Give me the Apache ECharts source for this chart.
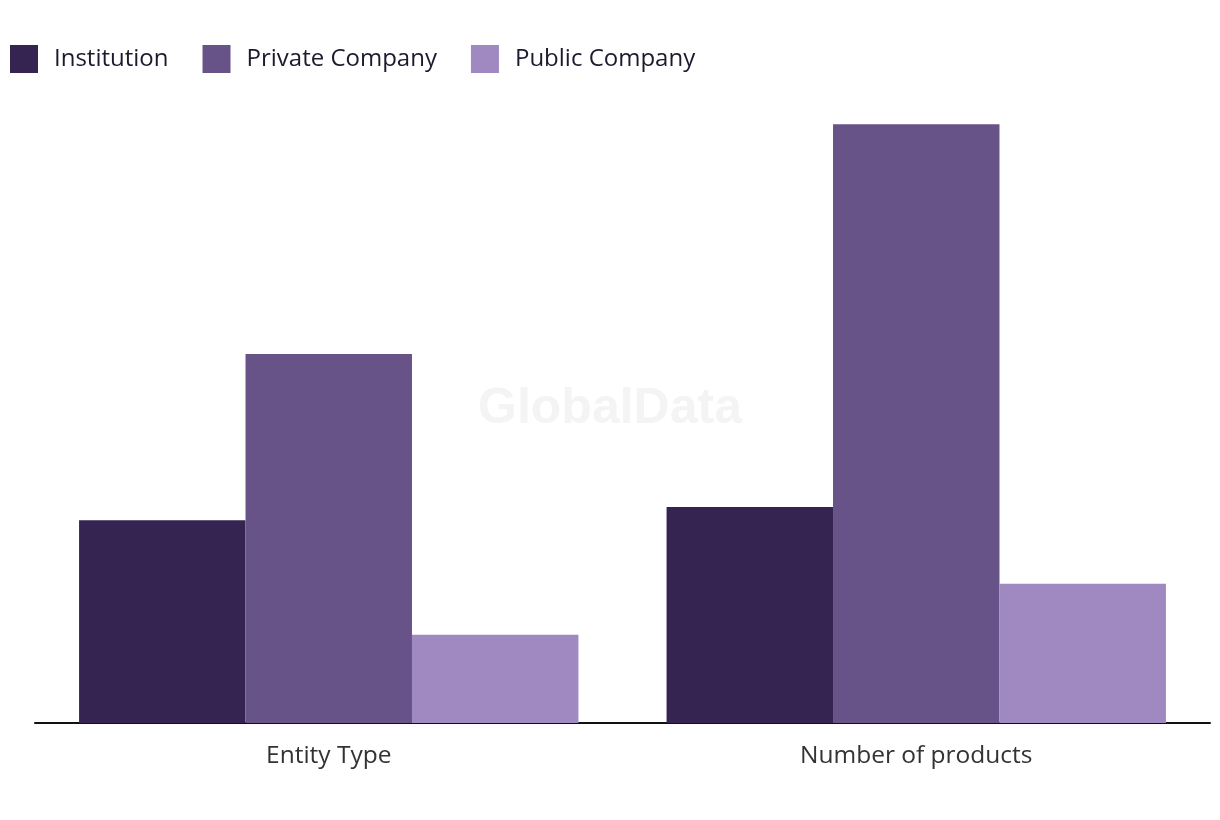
<!DOCTYPE html>
<html>
<head>
<meta charset="utf-8">
<style>html,body{margin:0;padding:0;background:#fff}#c{width:1220px;height:820px}</style>
<script src="https://cdn.jsdelivr.net/npm/echarts@6/dist/echarts.min.js"></script>
</head>
<body>
<div id="c"></div>
<script>
const categories = ['Entity Type', 'Number of products'];
const seriesNames = ['Institution', 'Private Company', 'Public Company'];
const institution = [33.8, 36.0];
const privateCompany = [61.5, 99.8];
const publicCompany = [14.7, 23.2];
const colors = ['#352452', '#685388', '#A088C0'];

const chart = echarts.init(document.getElementById('c'));
const values = [institution, privateCompany, publicCompany];
chart.setOption({
  animation: false,
  backgroundColor: '#fff',
  color: colors,
  textStyle: { fontFamily: 'Open Sans' },
  legend: {
    left: 5, top: 40, itemWidth: 28, itemHeight: 28, itemGap: 34,
    icon: 'rect',
    textStyle: { fontSize: 24, color: '#1c1a2e', fontFamily: 'Open Sans', padding: [0, 0, 0, 11] },
    data: seriesNames
  },
  graphic: [{
    type: 'text', left: 'center', top: 384, z: -1,
    style: { text: 'GlobalData', font: 'bold 50px "Liberation Sans"', fill: '#f4f4f4' }
  }],
  grid: { left: 35, right: 10, top: 123, bottom: 97, containLabel: false },
  xAxis: {
    type: 'category', data: categories,
    axisLine: { lineStyle: { color: '#111', width: 2 } },
    axisTick: { show: false },
    axisLabel: { fontSize: 24.5, color: '#333', margin: 21, fontFamily: 'Open Sans' }
  },
  yAxis: { type: 'value', min: 0, max: 100, show: false, splitLine: { show: false } },
  series: seriesNames.map((n, i) => ({
    name: n, type: 'bar', data: values[i], barGap: '0%', barCategoryGap: '15%'
  }))
});
</script>
</body>
</html>
